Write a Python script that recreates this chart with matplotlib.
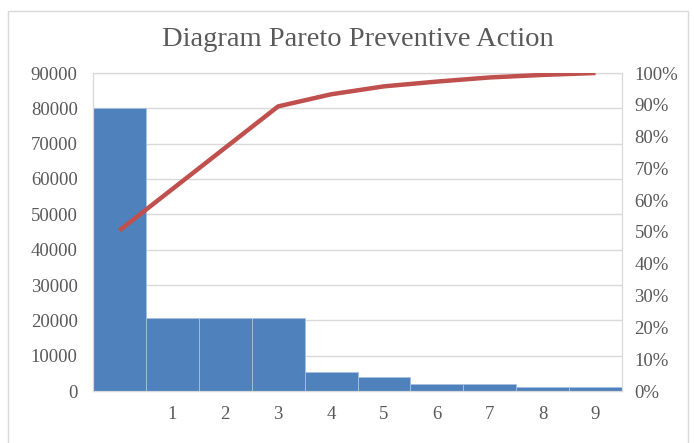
import matplotlib.pyplot as plt
from matplotlib.ticker import FuncFormatter

# data
categories = ["", "1", "2", "3", "4", "5", "6", "7", "8", "9"]
counts = [80000, 20800, 20800, 20800, 5500, 4000, 2000, 2000, 1000, 1000]
cum_pct = [50.5, 63.5, 76.5, 89.5, 93.3, 95.8, 97.3, 98.6, 99.4, 100.0]

bar_color = "#4F81BD"
line_color = "#C0504D"
text_color = "#595959"
grid_color = "#D9D9D9"

plt.rcParams['font.family'] = ['Liberation Serif', 'DejaVu Serif']

fig = plt.figure(figsize=(6.94, 4.43), dpi=100)
ax = fig.add_axes([93/694, 1 - 391/443, (622-93)/694, (391-73)/443])

x = list(range(len(counts)))
ax.bar(x, counts, width=1.0, color=bar_color, edgecolor="#A9C1E0", linewidth=0.6, zorder=2)
ax.set_xlim(-0.5, len(counts) - 0.5)
ax.set_ylim(0, 90000)
ax.set_yticks(range(0, 90001, 10000))
ax.yaxis.grid(True, color=grid_color, linewidth=1)
ax.set_axisbelow(True)
ax.set_xticks(x)
ax.set_xticklabels(categories)
ax.tick_params(axis='y', length=0, labelsize=13.5, colors=text_color, pad=11)
ax.tick_params(axis='x', length=3, direction='in', color="#A9C1E0", labelsize=13.5,
               labelcolor=text_color, pad=11)
for s in ax.spines.values():
    s.set_color(grid_color)
ax.spines['bottom'].set_color("#A9C1E0")

ax2 = ax.twinx()
ax2.plot(x, cum_pct, color=line_color, linewidth=3.2, solid_capstyle='butt', zorder=3)
ax2.set_ylim(0, 100)
ax2.set_yticks(range(0, 101, 10))
ax2.yaxis.set_major_formatter(FuncFormatter(lambda v, p: f"{int(v)}%"))
ax2.tick_params(axis='y', length=0, labelsize=13.5, colors=text_color, pad=9)
for s in ax2.spines.values():
    s.set_color(grid_color)

fig.text(358/694, 1 - 40/443, "Diagram Pareto Preventive Action", ha='center', va='center',
         fontsize=20.5, color=text_color)

# outer frame
fig.add_artist(plt.Rectangle((8/694, -0.05), (688-8)/694, 1.05 - 11/443, transform=fig.transFigure,
                             fill=False, edgecolor=grid_color, linewidth=1))

fig.savefig("out.png", dpi=100, facecolor="white")
